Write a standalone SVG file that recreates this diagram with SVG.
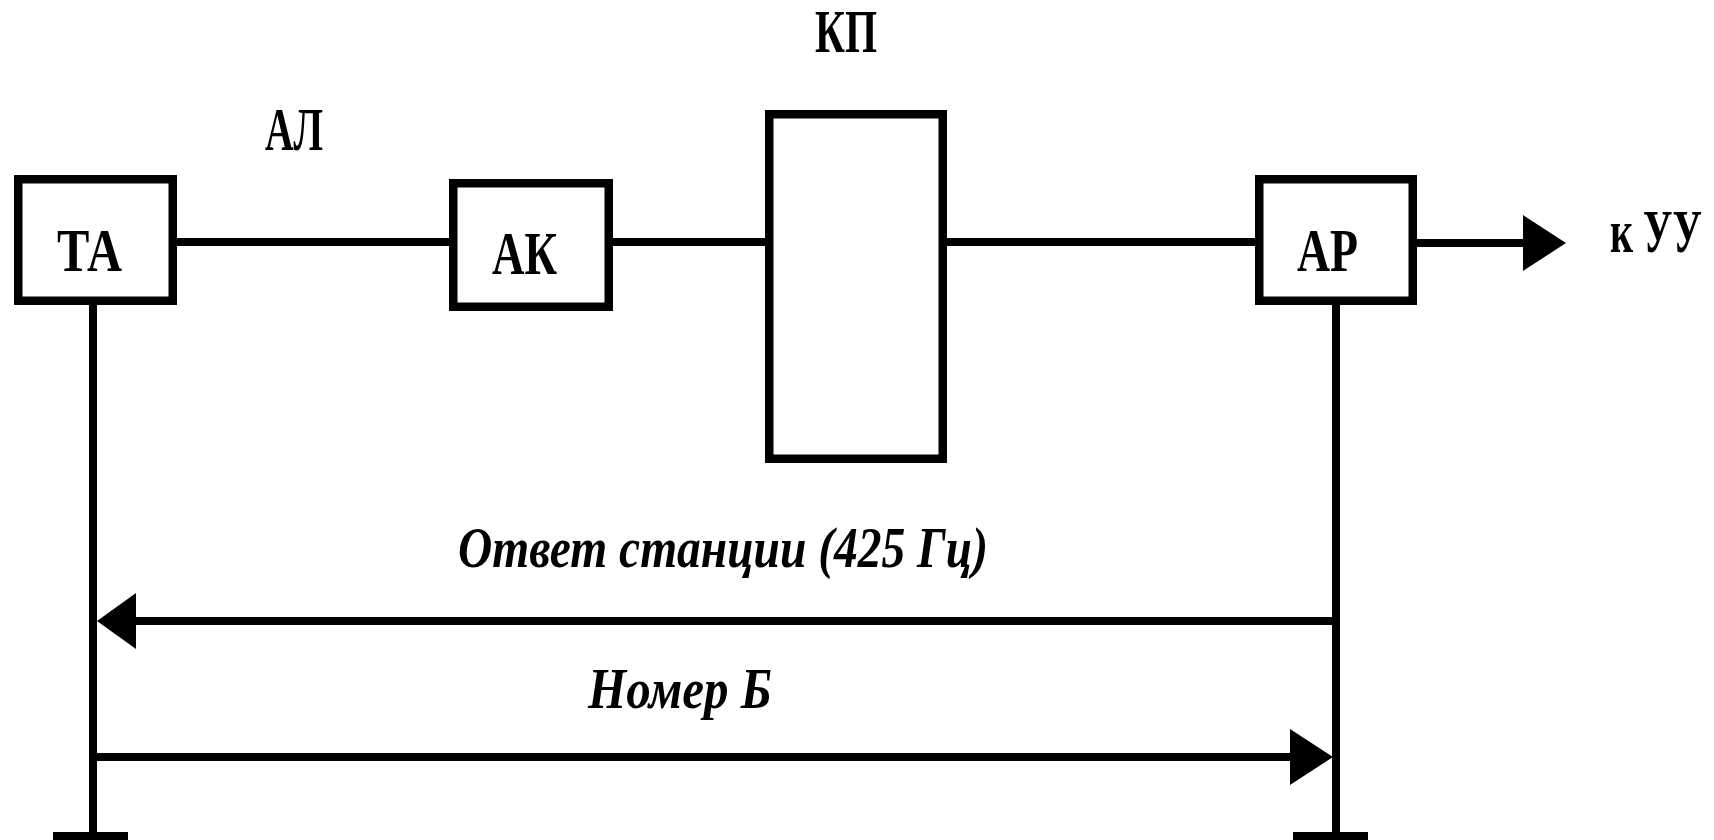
<svg xmlns="http://www.w3.org/2000/svg" width="1714" height="840" viewBox="0 0 1714 840">
  <style>
    .box { fill: #ffffff; stroke: #000000; stroke-width: 8.5; }
    .wire { stroke: #000000; stroke-width: 8; fill: none; }
    .head { fill: #000000; stroke: none; }
    .lbl { font-family: "Liberation Serif", "Times New Roman", serif; font-weight: bold; font-size: 62px; fill: #000000; }
    .sig { font-family: "Liberation Serif", "Times New Roman", serif; font-weight: bold; font-style: italic; font-size: 56px; fill: #000000; }
  </style>
  <rect width="1714" height="840" fill="#ffffff"/>

  <!-- connectors -->
  <g id="connectors">
    <line class="wire" x1="177" y1="242" x2="449" y2="242"/>
    <line class="wire" x1="613" y1="242" x2="765" y2="242"/>
    <line class="wire" x1="947" y1="242" x2="1255" y2="242"/>
    <line class="wire" x1="1417" y1="243" x2="1526" y2="243"/>
    <polygon class="head" points="1523,215 1566,243 1523,271"/>
    <!-- subscriber and register verticals -->
    <line class="wire" x1="93" y1="305" x2="93" y2="836"/>
    <line class="wire" x1="1336" y1="305" x2="1336" y2="836"/>
    <rect class="head" x="53" y="832" width="75" height="8"/>
    <rect class="head" x="1293" y="832" width="75" height="8"/>
    <!-- station answer -->
    <line class="wire" x1="1336" y1="621" x2="132" y2="621"/>
    <polygon class="head" points="97,621 136,593 136,649"/>
    <!-- number B -->
    <line class="wire" x1="93" y1="757" x2="1294" y2="757"/>
    <polygon class="head" points="1333,757 1290,729 1290,785"/>
  </g>

  <g id="node-ta">
    <rect class="box" x="18.25" y="179.25" width="154.5" height="121.5"/>
    <text class="lbl" x="57" y="271" textLength="65" lengthAdjust="spacingAndGlyphs">ТА</text>
  </g>

  <g id="node-al">
    <text class="lbl" x="265" y="150" textLength="58" lengthAdjust="spacingAndGlyphs">АЛ</text>
  </g>

  <g id="node-ak">
    <rect class="box" x="453.25" y="183.25" width="155.5" height="123.5"/>
    <text class="lbl" x="492" y="274" textLength="65" lengthAdjust="spacingAndGlyphs">АК</text>
  </g>

  <g id="node-kp">
    <rect class="box" x="769.25" y="114.25" width="173.5" height="344.5"/>
    <text class="lbl" x="815" y="52" textLength="62" lengthAdjust="spacingAndGlyphs">КП</text>
  </g>

  <g id="node-ar">
    <rect class="box" x="1259.25" y="179.25" width="153.5" height="121.5"/>
    <text class="lbl" x="1297" y="271" textLength="61" lengthAdjust="spacingAndGlyphs">АР</text>
  </g>

  <g id="node-uu">
    <!-- narrowed with a horizontal scale so the label stays inside the right edge -->
    <text class="lbl" transform="translate(1610,252) scale(0.68,1)" x="0" y="0" textLength="135" lengthAdjust="spacingAndGlyphs">к УУ</text>
  </g>

  <g id="label-answer">
    <text class="sig" x="458" y="567" textLength="530" lengthAdjust="spacingAndGlyphs">Ответ станции (425 Гц)</text>
  </g>

  <g id="label-number">
    <text class="sig" x="588" y="708" textLength="184" lengthAdjust="spacingAndGlyphs">Номер Б</text>
  </g>
</svg>
